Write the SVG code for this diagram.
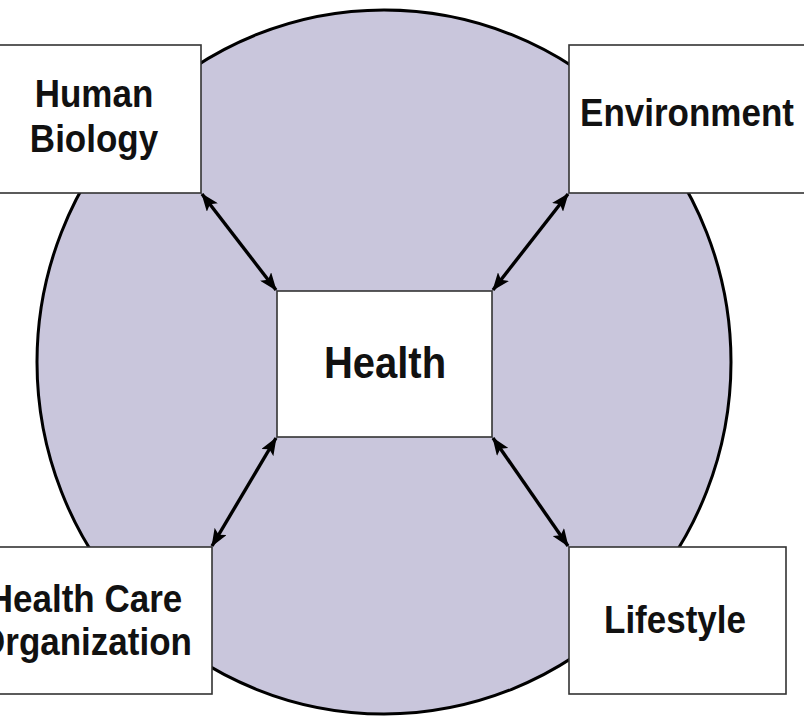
<svg xmlns="http://www.w3.org/2000/svg" width="804" height="717" viewBox="0 0 804 717">
<style>
.box{fill:#ffffff;stroke:#333333;stroke-width:1.6}
.lbl{font-family:"Liberation Sans",Arial,sans-serif;font-weight:bold;font-size:35px;fill:#111111;text-anchor:middle}
.big{font-size:40px}
.conn{stroke:#000000;stroke-width:3.4;fill:none;marker-start:url(#ah);marker-end:url(#ah)}
</style>
<defs>
<marker id="ah" viewBox="0 0 18 14" refX="17" refY="7" markerWidth="18" markerHeight="14" markerUnits="userSpaceOnUse" orient="auto-start-reverse">
<path d="M0,0 L18,7 L0,14 L4,7 z" fill="#000000"/>
</marker>
</defs>
<rect width="804" height="717" fill="#ffffff"/>
<ellipse id="circle" cx="384" cy="362" rx="347" ry="352" fill="#c9c6dc" stroke="#000000" stroke-width="3"/>
<g id="connectors">
<line class="conn" x1="202" y1="194" x2="276" y2="290"/>
<line class="conn" x1="568" y1="194" x2="493" y2="290"/>
<line class="conn" x1="276" y1="438" x2="212" y2="546"/>
<line class="conn" x1="493" y1="438" x2="568" y2="546"/>
</g>
<g id="human-biology">
<rect class="box" x="-10" y="45" width="211" height="148"/>
<text class="lbl" transform="translate(94,107) scale(1,1.1)">Human</text>
<text class="lbl" transform="translate(94,152) scale(1,1.1)">Biology</text>
</g>
<g id="environment">
<rect class="box" x="569" y="45" width="245" height="148"/>
<text class="lbl" transform="translate(687,126) scale(1,1.1)">Environment</text>
</g>
<g id="health">
<rect class="box" x="277" y="291" width="215" height="146"/>
<text class="lbl big" transform="translate(385,378) scale(1,1.1)">Health</text>
</g>
<g id="health-care-organization">
<rect class="box" x="-20" y="547" width="232" height="147"/>
<text class="lbl" transform="translate(85,612) scale(1,1.1)">Health Care</text>
<text class="lbl" transform="translate(85,655) scale(1,1.1)">Organization</text>
</g>
<g id="lifestyle">
<rect class="box" x="569" y="547" width="217" height="147"/>
<text class="lbl" transform="translate(675,633) scale(1,1.1)">Lifestyle</text>
</g>
</svg>
